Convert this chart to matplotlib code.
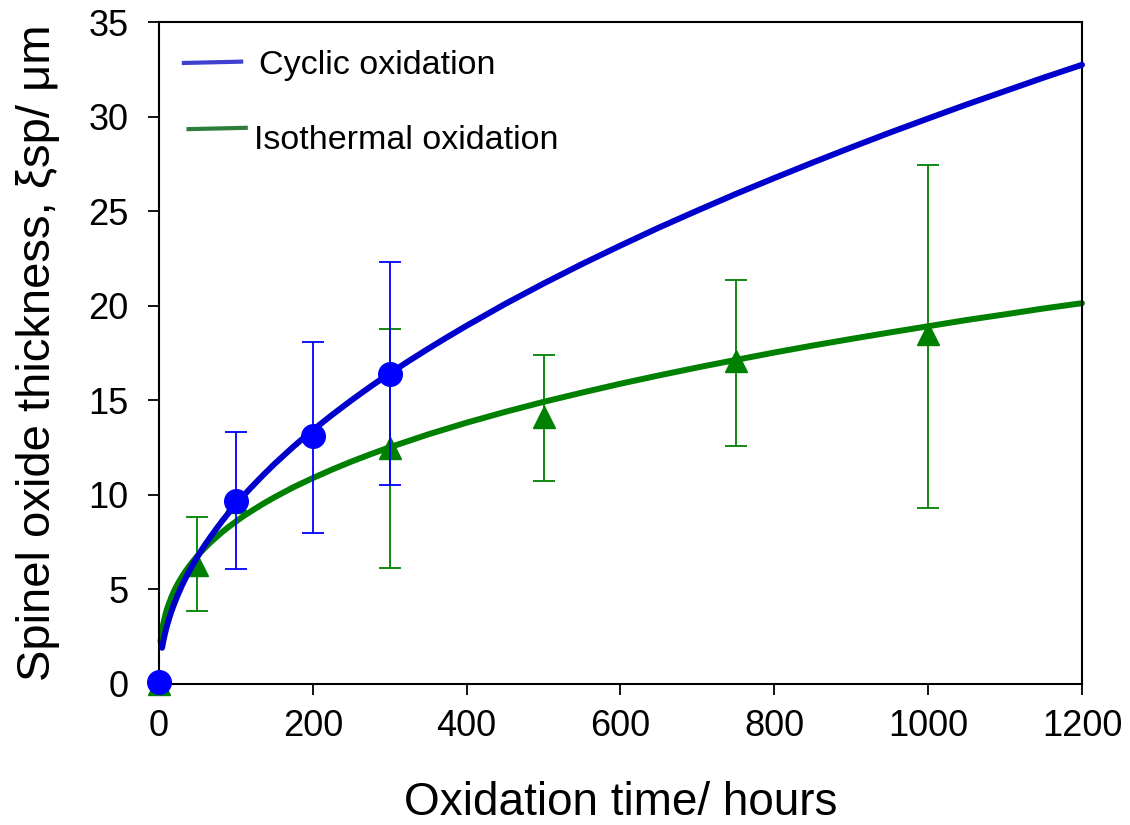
import matplotlib
matplotlib.use("Agg")
import matplotlib.pyplot as plt
from matplotlib.lines import Line2D

plt.rcParams['font.family'] = ['Liberation Sans', 'DejaVu Sans']

# Measured points (cyclic oxidation)
cyc_time = [0, 100, 200, 300]
cyc_val = [0.1, 9.7, 13.1, 16.4]
cyc_err_lo = [0.0, 3.6, 5.1, 5.9]
cyc_err_hi = [0.0, 3.6, 5.0, 5.9]

# Measured points (isothermal oxidation)
iso_time = [0, 50, 100, 300, 500, 750, 1000]
iso_val = [0.0, 6.3, 9.6, 12.5, 14.1, 17.1, 18.5]
iso_err_lo = [0.0, 2.45, 0.0, 6.35, 3.35, 4.5, 9.2]
iso_err_hi = [0.0, 2.55, 0.0, 6.3, 3.3, 4.25, 8.95]

# Fitted curves
cyc_fit_t = [4, 6, 8, 10, 13, 16, 20, 25, 30, 35, 40, 45, 50, 55, 60, 67, 75, 82, 90,
             100, 110, 120, 135, 150, 165, 175, 185, 200, 215, 225, 235, 250, 265, 275,
             285, 300, 325, 350, 375, 400, 450, 500, 550, 600, 650, 700, 750, 800, 850,
             900, 950, 1000, 1050, 1100, 1150, 1200]
cyc_fit_v = [1.91, 2.34, 2.70, 3.02, 3.44, 3.82, 4.26, 4.76, 5.22, 5.63, 6.02, 6.38,
             6.73, 7.06, 7.37, 7.78, 8.23, 8.61, 9.02, 9.50, 9.96, 10.40, 11.03, 11.63,
             12.19, 12.56, 12.91, 13.42, 13.91, 14.23, 14.54, 15.00, 15.44, 15.73, 16.01,
             16.42, 17.09, 17.73, 18.35, 18.95, 20.10, 21.18, 22.21, 23.19, 24.14, 25.04,
             25.92, 26.76, 27.58, 28.38, 29.16, 29.91, 30.65, 31.36, 32.07, 32.75]

iso_fit_t = [2, 3, 5, 8, 10, 12, 16, 20, 25, 30, 35, 40, 45, 50, 55, 60, 67, 75, 82,
             90, 100, 110, 125, 135, 150, 175, 200, 225, 250, 275, 300, 350, 400, 450,
             500, 550, 600, 650, 700, 750, 800, 850, 900, 950, 1000, 1050, 1100, 1150,
             1200]
iso_fit_v = [2.24, 2.58, 3.07, 3.61, 3.90, 4.15, 4.58, 4.95, 5.34, 5.68, 5.99, 6.27,
             6.53, 6.77, 7.00, 7.21, 7.49, 7.78, 8.03, 8.29, 8.59, 8.88, 9.27, 9.52,
             9.87, 10.41, 10.89, 11.34, 11.76, 12.15, 12.52, 13.20, 13.82, 14.39, 14.92,
             15.41, 15.88, 16.32, 16.74, 17.14, 17.53, 17.90, 18.25, 18.59, 18.92, 19.25,
             19.55, 19.86, 20.14]

x_ticks = [0, 200, 400, 600, 800, 1000, 1200]
y_ticks = [0, 5, 10, 15, 20, 25, 30, 35]

fig = plt.figure(figsize=(11.3, 8.25), dpi=100)
ax = fig.add_axes([0.1407, 0.171, 0.8168, 0.802])

green = '#008000'
blue_line = '#0000CC'
blue_mark = '#0000FF'

ax.plot(iso_fit_t, iso_fit_v, color=green, lw=4.3, solid_capstyle='round', zorder=2)
ax.errorbar(iso_time, iso_val, yerr=[iso_err_lo, iso_err_hi], fmt='^', color=green,
            ms=16, ecolor=green, elinewidth=1.3, capsize=8, capthick=1.3, zorder=3)
ax.plot(cyc_fit_t, cyc_fit_v, color=blue_line, lw=4.3, solid_capstyle='round', zorder=4)
ax.errorbar(cyc_time, cyc_val, yerr=[cyc_err_lo, cyc_err_hi], fmt='o', color=blue_mark,
            ms=17, ecolor=blue_mark, elinewidth=1.3, capsize=8, capthick=1.3, zorder=5)

ax.set_xlim(0, 1200)
ax.set_ylim(0, 35)
ax.set_xticks(x_ticks)
ax.set_yticks(y_ticks)
ax.tick_params(axis='x', direction='out', length=8, width=1.3, labelsize=26, pad=10,
               top=False)
ax.tick_params(axis='y', direction='out', length=8, width=1.3, labelsize=26, pad=14,
               right=False)
for s in ax.spines.values():
    s.set_linewidth(1.5)

ax.set_xlabel('Oxidation time/ hours', fontsize=33, labelpad=27)
ax.set_ylabel('Spinel oxide thickness, ξsp/ μm', fontsize=34, labelpad=20)

# Legend (custom placement)
ax.add_line(Line2D([0.027, 0.089], [0.9385, 0.9405], transform=ax.transAxes,
                   color='#4040D0', lw=3))
ax.text(0.108, 0.935, 'Cyclic oxidation', transform=ax.transAxes, fontsize=24.5,
        va='center', ha='left')
ax.add_line(Line2D([0.032, 0.094], [0.8385, 0.8405], transform=ax.transAxes,
                   color='#2E7D3A', lw=3))
ax.text(0.103, 0.822, 'Isothermal oxidation', transform=ax.transAxes, fontsize=24.5,
        va='center', ha='left')

for art in ax.get_lines():
    art.set_clip_on(False)

fig.savefig('out.png', dpi=100)
